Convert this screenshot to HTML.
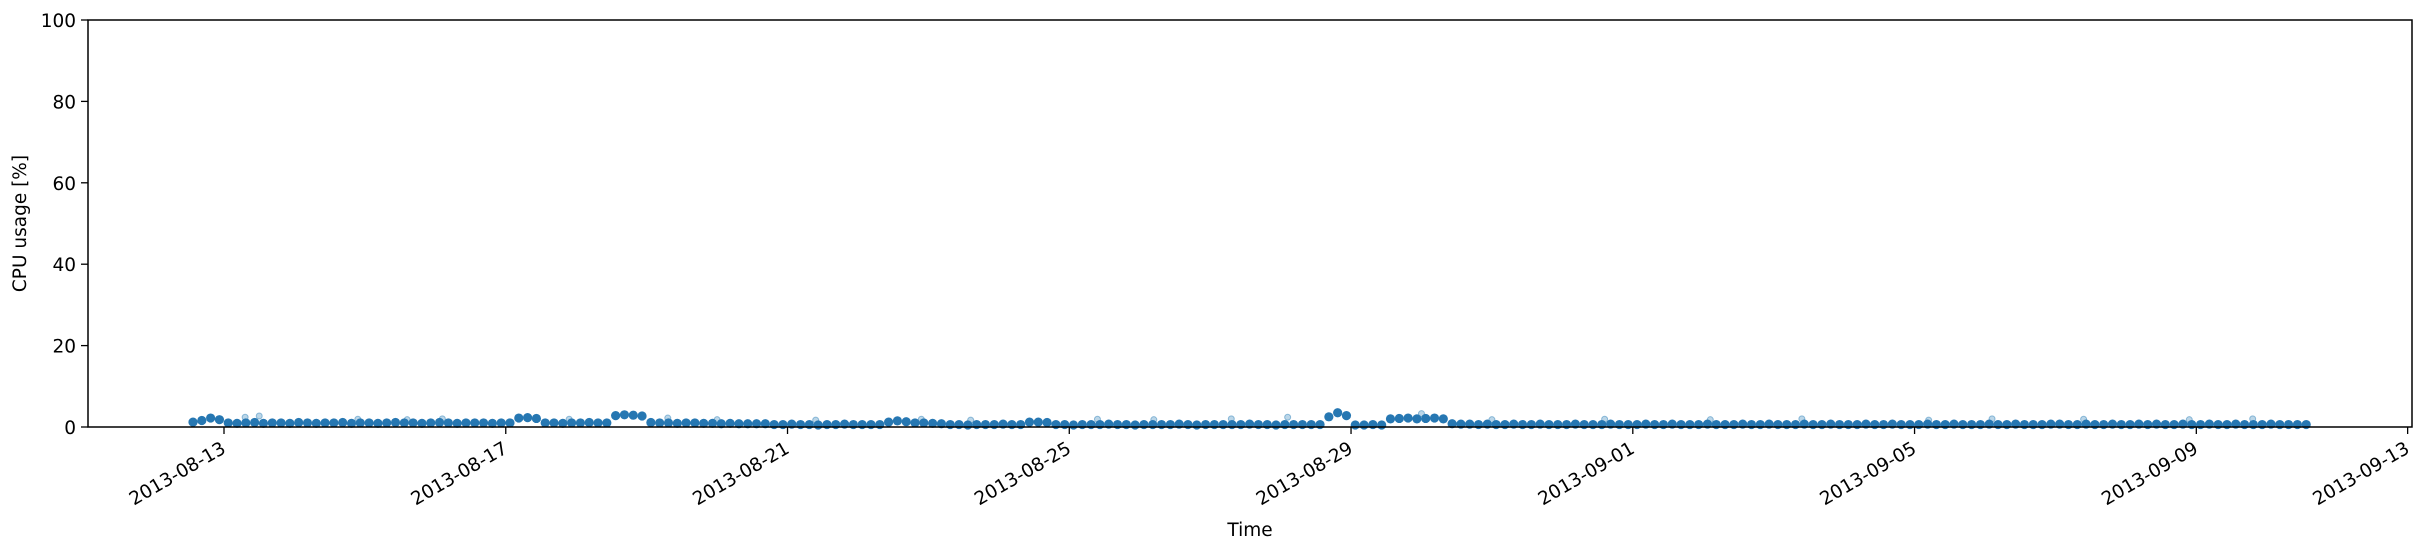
<!DOCTYPE html>
<html><head><meta charset="utf-8"><style>
html,body{margin:0;padding:0;background:#fff;}
svg text{font-family:"DejaVu Sans","Liberation Sans",sans-serif;fill:#000;}
</style></head><body>
<svg id="chart" width="2424" height="551" xmlns="http://www.w3.org/2000/svg">
<g id="marks"></g>
<g id="axes"></g>
</svg>
<script>
// ---- data ----
const startDay = -0.44;   // days relative to 2013-08-13 00:00
const stepDay = 0.125;
const cpuValues = [
1.2,1.6,2.2,1.8,
1.0,0.9,1.0,1.1,0.9,1.0,1.0,0.9,1.1,1.0,0.9,1.0,1.0,1.1,0.9,1.0,1.0,0.9,1.0,1.1,1.0,1.0,0.9,1.0,1.1,1.0,0.9,1.0,1.0,1.0,0.9,1.0,
1.0,2.2,2.3,2.1,
1.0,1.0,0.9,1.0,1.0,1.1,1.0,1.0,
2.8,3.0,2.9,2.7,
1.1,1.0,1.0,0.9,1.0,1.0,0.9,0.9,0.8,0.9,0.8,0.8,0.8,0.8,
0.6,0.6,0.7,0.6,0.6,0.5,0.6,0.6,0.7,0.6,0.6,0.6,0.6,
1.2,1.5,1.3,1.0,1.0,0.9,0.8,
0.6,0.6,0.5,0.6,0.6,0.6,0.7,0.6,0.6,
1.2,1.2,1.1,
0.6,0.6,0.5,0.6,0.6,0.6,0.7,0.6,0.6,0.5,0.6,0.6,0.6,0.6,0.7,0.6,0.5,0.6,0.6,0.6,0.6,0.6,0.7,0.6,0.6,0.5,0.6,0.6,0.6,0.6,0.6,
2.5,3.5,2.8,
0.5,0.5,0.6,0.5,2.0,
2.1,2.2,2.0,2.1,2.2,2.0,
0.8,0.7,0.7,0.6,0.7,0.6,0.6,0.7,0.6,0.6,0.7,0.6,0.6,0.6,0.7,0.6,0.6,0.6,0.7,0.6,
0.6,0.6,0.7,0.6,0.6,0.7,0.6,0.6,0.6,0.7,0.6,0.6,0.6,0.7,0.6,0.6,0.7,0.6,0.6,0.6,
0.7,0.6,0.6,0.7,0.6,0.6,0.6,0.7,0.6,0.6,0.7,0.6,0.6,0.6,0.7,0.6,0.6,0.7,0.6,0.6,
0.6,0.7,0.6,0.6,0.7,0.6,0.6,0.6,0.7,0.7,0.6,0.6,0.7,0.6,0.6,0.7,0.6,0.6,0.7,0.6,
0.7,0.6,0.6,0.7,0.6,0.6,0.7,0.6,0.6,0.7,0.6,0.6,0.6,0.7,0.6,0.6,0.6,0.6
];
const outlierDays = [0.3,0.5,1.9,2.6,3.1,4.9,6.3,7.0,8.4,9.9,10.6,12.4,13.2,14.3,15.1,17.0,18.0,19.6,21.1,22.4,24.2,25.1,26.4,27.9,28.8];
const outlierVals = [2.4,2.7,1.9,1.8,2.0,1.9,2.2,1.8,1.7,1.9,1.7,1.9,1.8,2.0,2.4,3.3,1.8,1.9,1.8,2.0,1.7,2.0,1.9,1.8,2.0];
const yTicks = [0,20,40,60,80,100];
const xTickDays = [0,4,8,12,16,20,24,28,31];
const xTickLabels = ["2013-08-13","2013-08-17","2013-08-21","2013-08-25","2013-08-29","2013-09-01","2013-09-05","2013-09-09","2013-09-13"];

// ---- layout ----
const L=88, R=2412, T=20, B=427;
const day0X=224, pxPerDay=70.44;
const xs = d => day0X + d*pxPerDay;
const ys = v => B - (v/100)*(B-T);
const NS="http://www.w3.org/2000/svg";
function mk(tag, attrs){const e=document.createElementNS(NS,tag);for(const k in attrs)e.setAttribute(k,attrs[k]);return e;}

const marks=document.getElementById('marks');
outlierDays.forEach((d,i)=>{
  const c=mk('circle',{cx:xs(d),cy:ys(outlierVals[i]),r:3,fill:'#1f77b4','fill-opacity':0.3,stroke:'#1f77b4','stroke-opacity':0.45,'stroke-width':1});
  
  
  marks.appendChild(c);
});
cpuValues.forEach((v,i)=>{
  const d=startDay+i*stepDay;
  const c=mk('circle',{cx:xs(d),cy:ys(v),r:4.6,fill:'#2677b2',stroke:'none'});
  
  
  marks.appendChild(c);
});

const axes=document.getElementById('axes');
const frame=mk('rect',{x:L,y:T,width:R-L,height:B-T,fill:'none',stroke:'#000','stroke-width':1.5});


axes.appendChild(frame);

yTicks.forEach(t=>{
  const y=ys(t);
  const ln=mk('line',{x1:L-7,x2:L,y1:y,y2:y,stroke:'#000','stroke-width':1.3});
  
  
  axes.appendChild(ln);
  const tx=mk('text',{x:L-12,y:y+7,'text-anchor':'end','font-size':18.5});
  tx.textContent=String(t);
  
  
  axes.appendChild(tx);
});

xTickDays.forEach((d,i)=>{
  const x=xs(d);
  const ln=mk('line',{x1:x,x2:x,y1:B,y2:B+7,stroke:'#000','stroke-width':1.3});
  
  
  axes.appendChild(ln);
  const tx=mk('text',{'text-anchor':'end','font-size':18.5,transform:`translate(${x+3},${B+25}) rotate(-30)`});
  tx.textContent=xTickLabels[i];
  
  
  axes.appendChild(tx);
});

const xt=mk('text',{x:1250,y:536,'text-anchor':'middle','font-size':18.5});
xt.textContent='Time';


axes.appendChild(xt);

const yt=mk('text',{'text-anchor':'middle','font-size':18.5,transform:`translate(26,${(T+B)/2}) rotate(-90)`});
yt.textContent='CPU usage [%]';


axes.appendChild(yt);
</script>
</body></html>
